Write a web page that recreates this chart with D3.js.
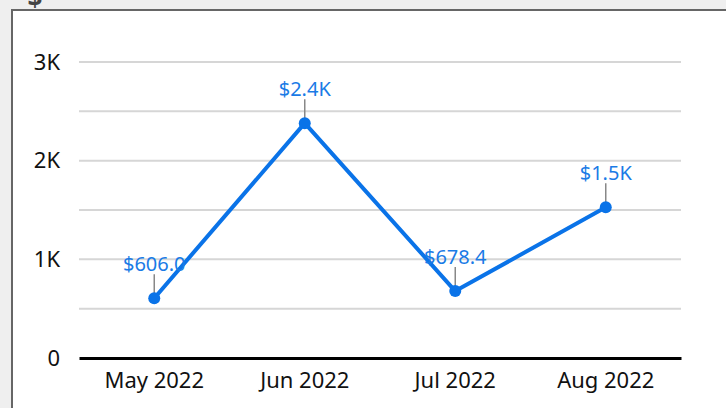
<!DOCTYPE html>
<html lang="en">
<head>
<meta charset="utf-8">
<title>monthly line</title>
<script src="https://d3js.org/d3.v7.min.js"></script>
<style>
  body { margin: 0; background: #efefef; }
  svg { display: block; }
  .tick text { font-family: "Noto Sans", sans-serif; }
</style>
</head>
<body>
<script>
// data
var months = ["May 2022", "Jun 2022", "Jul 2022", "Aug 2022"];
var amounts = [606.0, 2380, 678.4, 1527];
var labels = ["$606.0", "$2.4K", "$678.4", "$1.5K"];
var yTicks = [0, 1000, 2000, 3000];
var yTickLabels = ["0", "1K", "2K", "3K"];

var w = 726, h = 408;
var margin = {top: 62, right: 45, bottom: 50, left: 79};
var innerW = 681 - margin.left;
var innerH = 358 - margin.top;

var svg = d3.select("body").append("svg")
  .attr("width", w).attr("height", h);

// white panel, runs off the right/bottom edge
svg.append("rect")
  .attr("x", 12).attr("y", 10)
  .attr("width", w + 20).attr("height", h + 20)
  .attr("fill", "#fff")
  .attr("stroke", "#666")
  .attr("stroke-width", 2);

// clipped title glyph (partly hidden above the frame, as in the source)
svg.append("text")
  .attr("x", 35).attr("y", 7)
  .attr("text-anchor", "middle")
  .attr("font-family", "Noto Sans, sans-serif")
  .attr("font-weight", "bold")
  .attr("font-size", 26)
  .attr("fill", "#444")
  .text("$");

var g = svg.append("g")
  .attr("transform", `translate(${margin.left},${margin.top})`);

var x = d3.scaleBand().domain(months).range([0, innerW]);
var y = d3.scaleLinear().domain([0, 3000]).range([innerH, 0]);

// gridlines every 500
g.selectAll("line.grid")
  .data(d3.range(500, 3001, 500))
  .enter().append("line")
  .attr("class", "grid")
  .attr("x1", 0).attr("x2", innerW)
  .attr("y1", d => y(d)).attr("y2", d => y(d))
  .attr("stroke", "#d6d6d6")
  .attr("stroke-width", 2);

// y axis labels
var yAxis = d3.axisLeft(y)
  .tickValues(yTicks)
  .tickFormat((d, i) => yTickLabels[i])
  .tickSize(0).tickPadding(19);
var ya = g.append("g").call(yAxis);
ya.select(".domain").remove();
ya.selectAll("text").attr("font-size", 22).attr("fill", "#111");

// x axis
var xAxis = d3.axisBottom(x).tickSize(0).tickPadding(14);
var xa = g.append("g")
  .attr("transform", `translate(0,${innerH})`)
  .call(xAxis);
xa.select(".domain").attr("stroke", "#000").attr("stroke-width", 3);
xa.selectAll("text").attr("font-size", 22).attr("fill", "#111");

var cx = d => x(d) + x.bandwidth() / 2;

var lineGen = d3.line()
  .x((d, i) => cx(months[i]))
  .y(d => y(d));

g.append("path")
  .datum(amounts)
  .attr("fill", "none")
  .attr("stroke", "#0a73e8")
  .attr("stroke-width", 4)
  .attr("stroke-linejoin", "round")
  .attr("d", lineGen);

// leader ticks
g.selectAll("line.lead")
  .data(amounts)
  .enter().append("line")
  .attr("class", "lead")
  .attr("x1", (d, i) => cx(months[i])).attr("x2", (d, i) => cx(months[i]))
  .attr("y1", d => y(d)).attr("y2", d => y(d) - 24)
  .attr("stroke", "#888")
  .attr("stroke-width", 1.5);

g.selectAll("circle")
  .data(amounts)
  .enter().append("circle")
  .attr("cx", (d, i) => cx(months[i]))
  .attr("cy", d => y(d))
  .attr("r", 6)
  .attr("fill", "#0a73e8");

g.selectAll("text.val")
  .data(amounts)
  .enter().append("text")
  .attr("class", "val")
  .attr("x", (d, i) => cx(months[i]))
  .attr("y", d => y(d) - 27)
  .attr("text-anchor", "middle")
  .attr("font-family", "Noto Sans, sans-serif")
  .attr("font-size", 20)
  .attr("fill", "#1a7be6")
  .text((d, i) => labels[i]);
</script>
</body>
</html>
